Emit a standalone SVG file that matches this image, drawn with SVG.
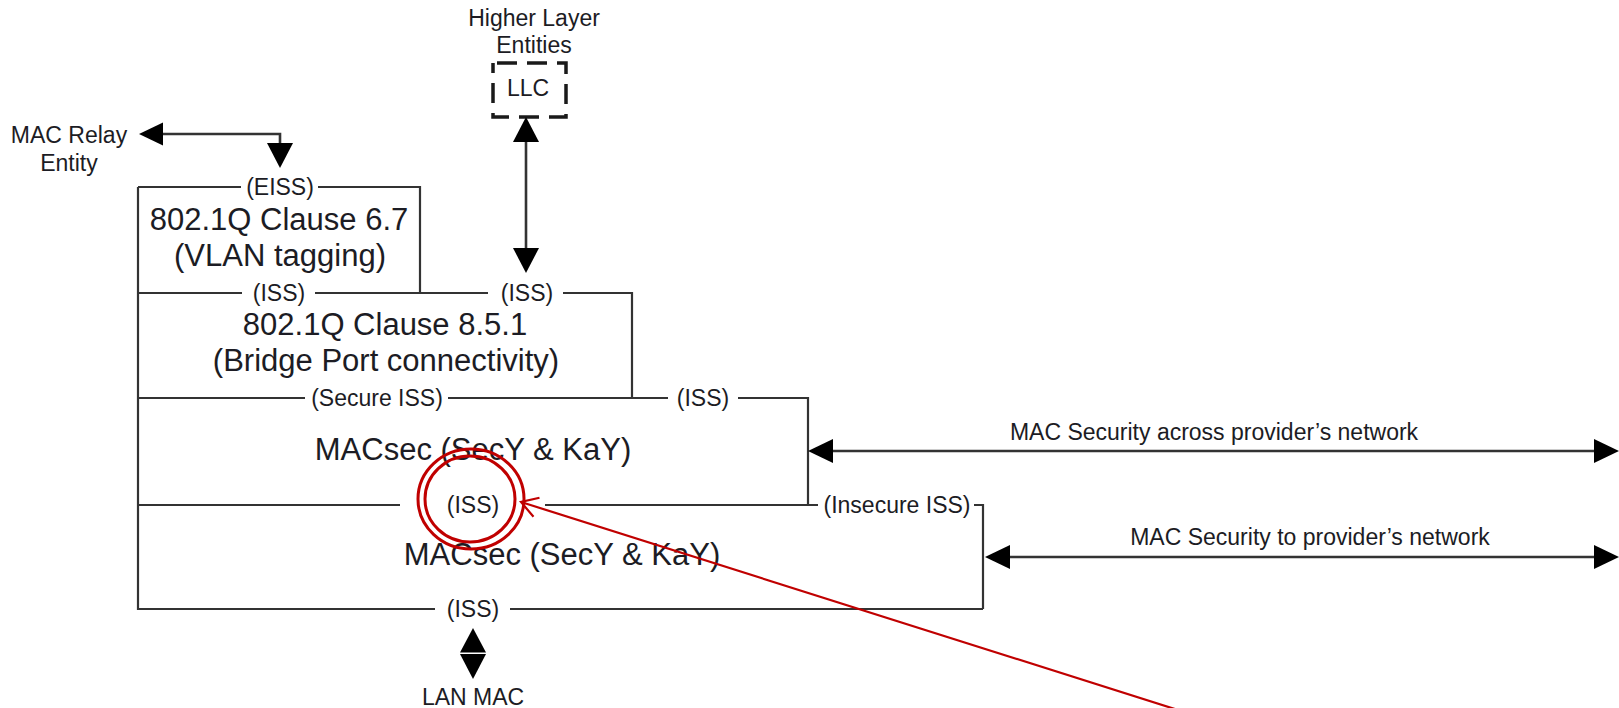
<svg xmlns="http://www.w3.org/2000/svg" width="1619" height="708" viewBox="0 0 1619 708">
<style>
text{font-family:"Liberation Sans",Arial,sans-serif;fill:#1c1c24;text-anchor:middle}
.sm{font-size:23px}
.lb{font-size:23px}
.big{font-size:31px}
.ln{fill:none;stroke:#333;stroke-width:2.2}
.sh{fill:none;stroke:#333;stroke-width:2.6}
.ah{fill:#000}
.red{fill:none;stroke:#c00000;stroke-width:3}
.redl{fill:none;stroke:#c00000;stroke-width:2.2}
</style>
<rect width="1619" height="708" fill="#fff"/>

<g id="higher-layer">
<text class="sm" x="534" y="26">Higher Layer</text>
<text class="sm" x="534" y="53">Entities</text>
</g>
<g id="llc">
<rect x="493" y="63" width="73" height="54" fill="none" stroke="#1a1a1a" stroke-width="3.5" stroke-dasharray="20 10" stroke-dashoffset="-4"/>
<text class="sm" x="528" y="96">LLC</text>
</g>
<g id="mac-relay">
<text class="sm" x="69" y="143">MAC Relay</text>
<text class="sm" x="69" y="171">Entity</text>
</g>

<g id="vlan-tagging">
<path class="ln" d="M138 187H241M318 187H420V293"/>
<text class="lb" x="280" y="195">(EISS)</text>
<text class="big" x="279" y="230">802.1Q Clause 6.7</text>
<text class="big" x="280" y="266">(VLAN tagging)</text>
</g>

<g id="bridge-port">
<path class="ln" d="M138 293H242M315 293H488M563 293H632V398"/>
<text class="lb" x="279" y="301">(ISS)</text>
<text class="lb" x="527" y="301">(ISS)</text>
<text class="big" x="385" y="335">802.1Q Clause 8.5.1</text>
<text class="big" x="386" y="371">(Bridge Port connectivity)</text>
</g>

<g id="macsec-upper">
<path class="ln" d="M138 398H305M448 398H668M738 398H808V505"/>
<text class="lb" x="377" y="406">(Secure ISS)</text>
<text class="lb" x="703" y="406">(ISS)</text>
<text class="big" x="473" y="460">MACsec (SecY &amp; KaY)</text>
</g>

<g id="macsec-lower">
<path class="ln" d="M138 505H400M545 505H818M974 505H983V609"/>
<text class="lb" x="473" y="513">(ISS)</text>
<text class="lb" x="897" y="513">(Insecure ISS)</text>
<text class="big" x="562" y="565">MACsec (SecY &amp; KaY)</text>
<path class="ln" d="M138 187V609H435M510 609H983"/>
<text class="lb" x="473" y="617">(ISS)</text>
</g>

<g id="lan-mac">
<text class="sm" x="473" y="705">LAN MAC</text>
</g>

<g id="connectors">
<path class="sh" d="M162 134H280V144"/>
<polygon class="ah" points="139,134 163,122.5 163,145.5"/>
<polygon class="ah" points="267,143 293,143 280,168"/>

<path class="sh" d="M526 141V249"/>
<polygon class="ah" points="526,117 513,142 539,142"/>
<polygon class="ah" points="513,248 539,248 526,273"/>

<polygon class="ah" points="473,628 460,652.5 486,652.5"/>
<polygon class="ah" points="460,654 486,654 473,679"/>

<path class="sh" d="M832 451H1595"/>
<polygon class="ah" points="808,451 833,439 833,463"/>
<polygon class="ah" points="1619,451 1594,439 1594,463"/>
<text class="sm" x="1214" y="440">MAC Security across provider’s network</text>

<path class="sh" d="M1009 557H1595"/>
<polygon class="ah" points="985,557 1010,545 1010,569"/>
<polygon class="ah" points="1619,557 1594,545 1594,569"/>
<text class="sm" x="1310" y="545">MAC Security to provider’s network</text>
</g>

<g id="annotation">
<ellipse class="red" cx="471" cy="499" rx="53" ry="50"/>
<ellipse class="red" cx="470" cy="499" rx="45" ry="43"/>
<path class="redl" d="M521 502L1178 710M539.5 497.7L521 502L533.5 516.8"/>
</g>
</svg>
